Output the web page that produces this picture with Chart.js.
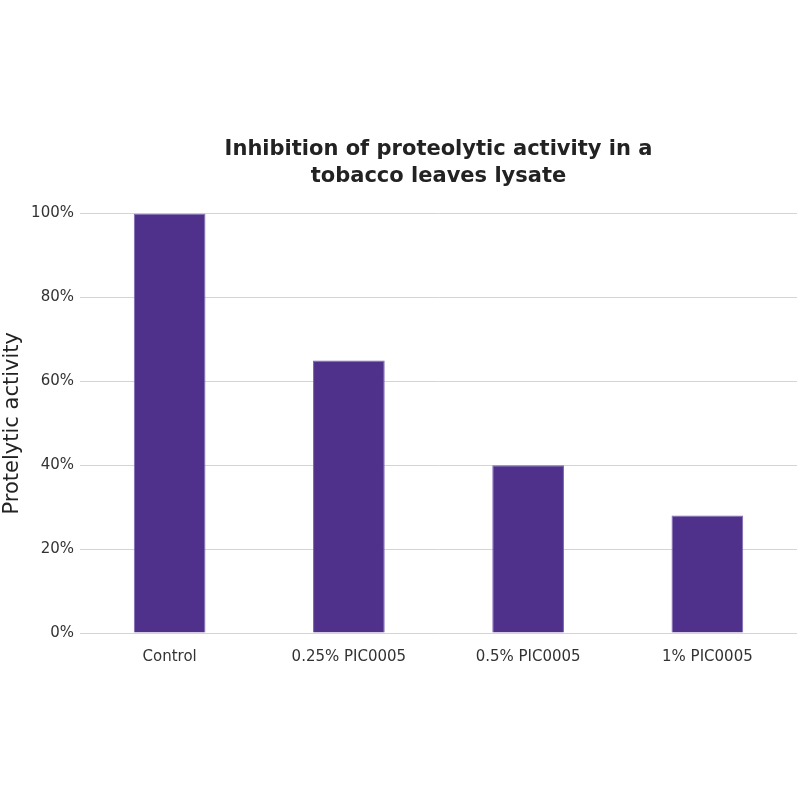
<!DOCTYPE html>
<html>
<head>
<meta charset="utf-8">
<script src="https://cdn.jsdelivr.net/npm/chart.js@4/dist/chart.umd.min.js"></script>
<style>
  html, body { margin: 0; padding: 0; background: #fff; }
  #wrap { width: 800px; height: 800px; }
</style>
</head>
<body>
<div id="wrap"><canvas id="chart" width="800" height="800"></canvas></div>
<script>
// Chart data
const categories = ['Control', '0.25% PIC0005', '0.5% PIC0005', '1% PIC0005'];
const activity = [100, 65, 40, 28];
const titleLines = ['Inhibition of proteolytic activity in a', 'tobacco leaves lysate'];
const yAxisTitle = 'Protelytic activity';

const barColor = '#4f318c';
const gridColor = '#d4d4d4';
const textColor = '#333333';
const fontFamily = '"DejaVu Sans", Verdana, sans-serif';

const ctx = document.getElementById('chart');
new Chart(ctx, {
    type: 'bar',
    data: {
        labels: categories,
        datasets: [{
            label: yAxisTitle,
            data: activity,
            backgroundColor: barColor,
            borderColor: '#7c66b2',
            borderWidth: 1,
            barPercentage: 0.4,
            categoryPercentage: 1.0
        }]
    },
    options: {
        responsive: false,
        animation: false,
        devicePixelRatio: 1,
        layout: {
            padding: { top: 136, right: 3, bottom: 127, left: 0 }
        },
        plugins: {
            legend: { display: false },
            tooltip: { enabled: false },
            title: {
                display: true,
                fullSize: false,   // center over the plot area, not the canvas
                text: titleLines,
                color: '#222',
                font: { family: fontFamily, size: 21, weight: 'bold', lineHeight: 1.3 },
                padding: { top: 0, bottom: 23 }
            }
        },
        scales: {
            x: {
                grid: { display: false },
                border: { display: false },
                ticks: {
                    color: textColor,
                    font: { family: fontFamily, size: 15 },
                    padding: 7,
                    maxRotation: 0
                },
                afterFit: function(scale) { scale.height = 40; }
            },
            y: {
                min: 0,
                max: 100,
                ticks: {
                    stepSize: 20,
                    color: textColor,
                    font: { family: fontFamily, size: 15 },
                    padding: 6,
                    callback: function(v) { return v + '%'; }
                },
                grid: { color: gridColor, lineWidth: 1, drawTicks: false },
                border: { display: false },
                title: {
                    display: true,
                    text: yAxisTitle,
                    color: '#222',
                    font: { family: fontFamily, size: 21 },
                    padding: { top: 0, bottom: 4 }
                },
                afterFit: function(scale) { scale.width = 80; }
            }
        }
    }
});
</script>
</body>
</html>
